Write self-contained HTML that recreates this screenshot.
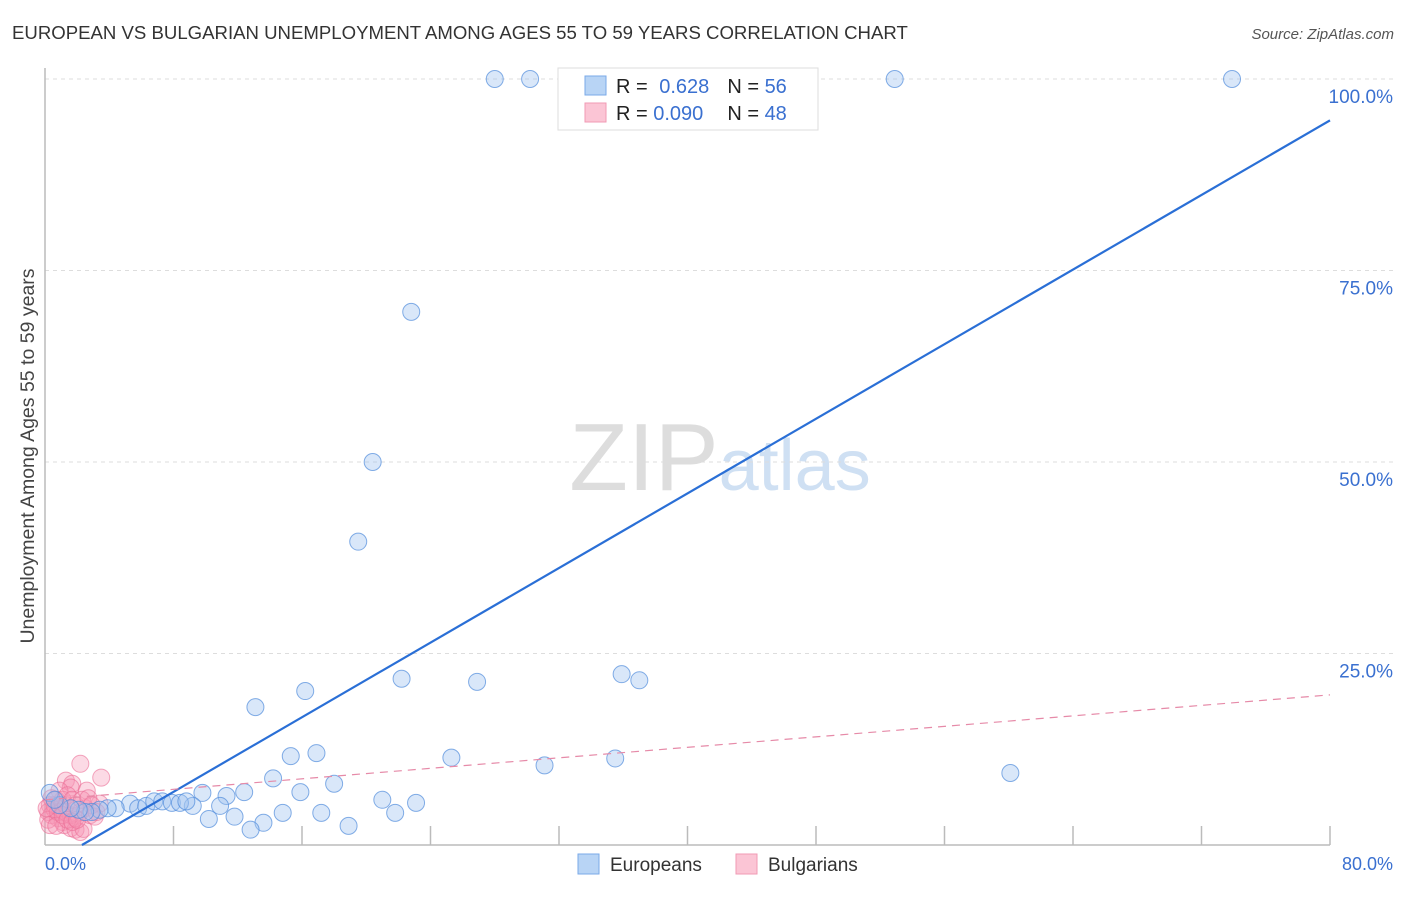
<!DOCTYPE html>
<html><head><meta charset="utf-8">
<style>
body{margin:0;background:#fff;font-family:"Liberation Sans",sans-serif;}
svg text{font-family:"Liberation Sans",sans-serif;}
</style></head>
<body>
<svg id="chart" width="1406" height="892" xmlns="http://www.w3.org/2000/svg">
<text x="12" y="39" font-size="18.6" fill="#333">EUROPEAN VS BULGARIAN UNEMPLOYMENT AMONG AGES 55 TO 59 YEARS CORRELATION CHART</text>
<text x="1394" y="39" font-size="15" fill="#555" text-anchor="end" font-style="italic">Source: ZipAtlas.com</text>
<text x="720" y="490" font-size="96" text-anchor="middle" fill="#ddd" font-family="Liberation Serif">ZIP<tspan fill="#cfe0f3" font-family="Liberation Sans" font-size="72">atlas</tspan></text>
<text transform="translate(34,456) rotate(-90)" font-size="19.5" fill="#444" text-anchor="middle">Unemployment Among Ages 55 to 59 years</text>
<g id="grid"></g>
<g id="axes"></g>
<g id="pts"></g>
<g id="trend"></g>
<g>
<rect x="558" y="68" width="260" height="62" fill="#fff" stroke="#ddd"/>
<rect x="585" y="76" width="21" height="19" fill="#b8d4f5" stroke="#7aaae8"/>
<rect x="585" y="103" width="21" height="19" fill="#fbc5d5" stroke="#f09ab4"/>
<text x="616" y="93" font-size="20" fill="#222">R = <tspan fill="#3a70d0" dx="6">0.628</tspan><tspan dx="18" fill="#222">N = </tspan><tspan fill="#3a70d0">56</tspan></text>
<text x="616" y="120" font-size="20" fill="#222">R = <tspan fill="#3a70d0">0.090</tspan><tspan dx="24" fill="#222">N = </tspan><tspan fill="#3a70d0">48</tspan></text>
</g>
<g>
<rect x="578" y="854" width="21" height="20" fill="#b8d4f5" stroke="#7aaae8"/>
<text x="610" y="871" font-size="19" fill="#333">Europeans</text>
<rect x="736" y="854" width="21" height="20" fill="#fbc5d5" stroke="#f09ab4"/>
<text x="768" y="871" font-size="19" fill="#333">Bulgarians</text>
</g>
</svg>
<script>
const xTickLabels=["0.0%","80.0%"];
const yTickValues=[25,50,75,100];
const yTickLabels=["25.0%","50.0%","75.0%","100.0%"];
const euX=[28.0,30.2,33.1,52.9,73.9,22.8,20.4,19.5,13.1,16.2,22.2,26.9,35.9,37.0,15.3,16.9,25.3,31.1,35.5,60.1,14.2,18.0,9.8,12.4,11.3,15.9,21.0,23.1,9.2,10.9,10.2,11.8,14.8,17.2,21.8,13.6,12.8,18.9,5.3,5.8,6.3,6.8,7.3,7.9,8.4,8.8,4.4,3.9,3.4,2.9,2.5,2.1,1.6,0.9,0.3,0.6];
const euY=[100,100,100,100,100,69.6,50,39.6,18.0,20.1,21.7,21.3,22.3,21.5,11.6,12.0,11.4,10.4,11.3,9.4,8.7,8.0,6.8,6.9,6.4,6.9,5.9,5.5,5.1,5.1,3.4,3.7,4.2,4.2,4.2,2.9,2.0,2.5,5.4,4.8,5.1,5.7,5.7,5.5,5.5,5.7,4.8,4.8,4.6,4.3,4.3,4.6,4.8,5.2,6.8,5.9];
const buX=[2.2,3.5,1.3,1.7,1.6,2.6,3.4,0.9,0.7,0.3,0.2,0.4,0.8,1.1,1.2,1.6,1.9,2.2,2.4,0.9,0.6,1.2,1.6,1.9,2.2,2.5,2.8,3.1,0.2,0.3,0.6,0.8,1.1,1.3,1.4,1.7,1.9,2.3,2.7,2.9,3.2,0.4,0.1,0.7,1.1,1.4,1.7,2.0];
const buY=[10.6,8.8,8.4,8.0,7.5,7.1,5.4,7.1,5.9,5.2,4.3,3.9,3.5,3.0,2.6,2.2,2.0,1.7,2.1,4.8,4.6,4.3,3.9,3.5,4.3,4.8,3.9,3.7,3.3,2.6,5.2,4.3,5.9,5.2,6.5,5.9,5.2,5.9,6.1,5.2,4.3,6.1,4.8,2.5,3.9,3.3,3.0,3.3];
const euTrend=[[2.3,0],[80,94.6]];
const buTrend=[[0,5.9],[80,19.6]];
const NS="http://www.w3.org/2000/svg";
const X=v=>45+v*(1330-45)/80, Y=v=>845-v*(845-79)/100;
function mk(t,a,p){const e=document.createElementNS(NS,t);for(const k in a)e.setAttribute(k,a[k]);p.appendChild(e);return e;}
const grid=document.getElementById('grid'),axes=document.getElementById('axes'),pts=document.getElementById('pts'),tr=document.getElementById('trend');
yTickValues.forEach((v,i)=>{
 const l=mk('line',{x1:45,x2:1395,y1:Y(v),y2:Y(v),stroke:'#ddd','stroke-dasharray':'4,4'},grid);
 
 
 const t=mk('text',{x:1393,y:Y(v)+24,'font-size':19,fill:'#3a70d0','text-anchor':'end'},axes);
 t.textContent=yTickLabels[i];
 
 
});
const xa=mk('line',{x1:45,x2:1330,y1:845,y2:845,stroke:'#bbb','stroke-width':1.5},axes);


const ya=mk('line',{x1:45,x2:45,y1:68,y2:845,stroke:'#bbb','stroke-width':1.5},axes);


for(let i=1;i<=10;i++){const tk=mk('line',{x1:X(i*8),x2:X(i*8),y1:826,y2:845,stroke:'#bbb','stroke-width':1.5},axes);
 
 }
[[0,'start',45],[80,'end',1393]].forEach((d,i)=>{const t=mk('text',{x:d[2],y:870,'font-size':18,fill:'#3a70d0','text-anchor':d[1]},axes);t.textContent=xTickLabels[i];
 
 });
buX.forEach((v,i)=>{const c=mk('circle',{cx:X(v),cy:Y(buY[i]),r:8.5,fill:'rgba(245,150,180,0.35)',stroke:'rgba(235,110,150,0.6)'},pts);
 
 });
euX.forEach((v,i)=>{const c=mk('circle',{cx:X(v),cy:Y(euY[i]),r:8.5,fill:'rgba(160,195,240,0.4)',stroke:'rgba(80,140,220,0.7)'},pts);
 
 });
const bl=mk('line',{x1:X(euTrend[0][0]),y1:Y(euTrend[0][1]),x2:X(euTrend[1][0]),y2:Y(euTrend[1][1]),stroke:'#2a6fd6','stroke-width':2.2},tr);


const pl=mk('line',{x1:X(buTrend[0][0]),y1:Y(buTrend[0][1]),x2:X(buTrend[1][0]),y2:Y(buTrend[1][1]),stroke:'#e68aa8','stroke-width':1.2,'stroke-dasharray':'8,6'},tr);


</script>
</body></html>
